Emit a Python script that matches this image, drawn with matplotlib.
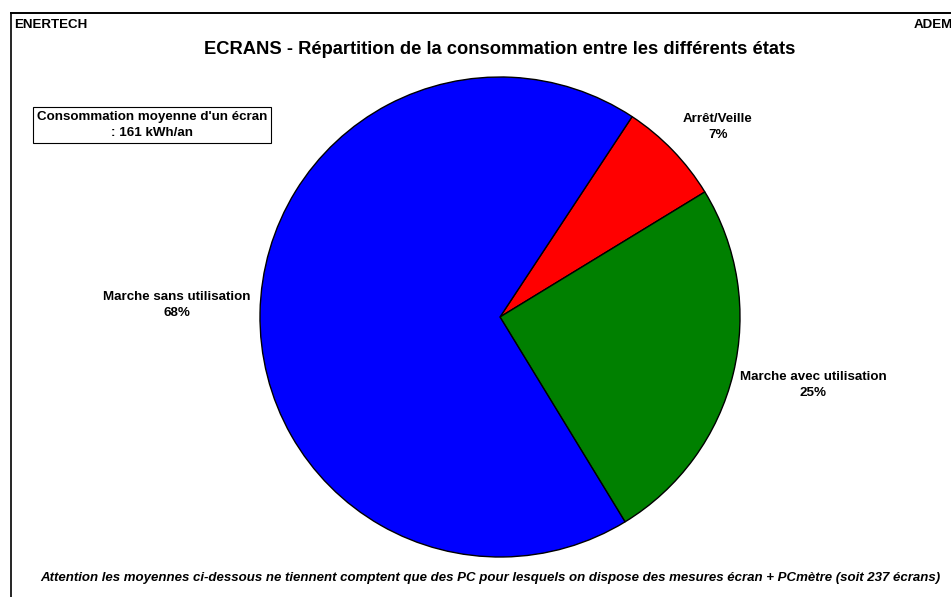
import matplotlib
matplotlib.use("Agg")
import matplotlib.pyplot as plt
from matplotlib.lines import Line2D

plt.rcParams['font.family'] = ['Liberation Sans', 'DejaVu Sans']

# donnees
etats = ["Arrêt/Veille", "Marche avec utilisation", "Marche sans utilisation"]
parts = [7, 25, 68]
couleurs = ["#FF0000", "#008000", "#0000FF"]
conso_moyenne = 161

W, H = 951, 597
fig = plt.figure(figsize=(W / 100, H / 100), dpi=100)
ax = fig.add_axes([0, 0, 1, 1])
ax.set_xlim(0, W)
ax.set_ylim(0, H)
ax.set_aspect("equal")
ax.axis("off")

wedges, _ = ax.pie(parts, colors=couleurs, startangle=56.6, counterclock=False,
                   center=(500, H - 317), radius=240,
                   wedgeprops=dict(edgecolor="black", linewidth=1))
ax.set_xlim(0, W)
ax.set_ylim(0, H)

# etiquettes
pos_labels = [(718, 127), (813, 385), (177, 305)]
for nom, p, (x, y) in zip(etats, parts, pos_labels):
    ax.text(x, H - y, f"{nom}\n{p}%", ha="center", va="center",
            fontsize=9.6, fontweight="bold", linespacing=1.5)

# cadre
fig.add_artist(Line2D([11 / W, 1], [1 - 13 / H, 1 - 13 / H], color="black", lw=1.4))
fig.add_artist(Line2D([11 / W, 11 / W], [1 - 13 / H, 0], color="black", lw=1.2))

fig.text(14 / W, 1 - 25 / H, "ENERTECH", fontsize=9.6, fontweight="bold", va="center")
fig.text(914 / W, 1 - 25 / H, "ADEME", fontsize=9.6, fontweight="bold", va="center")

fig.text(500 / W, 1 - 49 / H, "ECRANS - Répartition de la consommation entre les différents états",
         fontsize=13.2, fontweight="bold", ha="center", va="center")

ax.text(152, H - 125, f"Consommation moyenne d'un écran\n: {conso_moyenne} kWh/an",
        ha="center", va="center", fontsize=9.6, fontweight="bold", linespacing=1.5,
        bbox=dict(boxstyle="square,pad=0.3", facecolor="white", edgecolor="black", lw=0.8))

fig.text(490 / W, 1 - 578 / H,
         "Attention les moyennes ci-dessous ne tiennent comptent que des PC pour lesquels on dispose des mesures écran + PCmètre (soit 237 écrans)",
         fontsize=9.5, fontweight="bold", style="italic", ha="center", va="center")

fig.savefig("out.png", dpi=100)
